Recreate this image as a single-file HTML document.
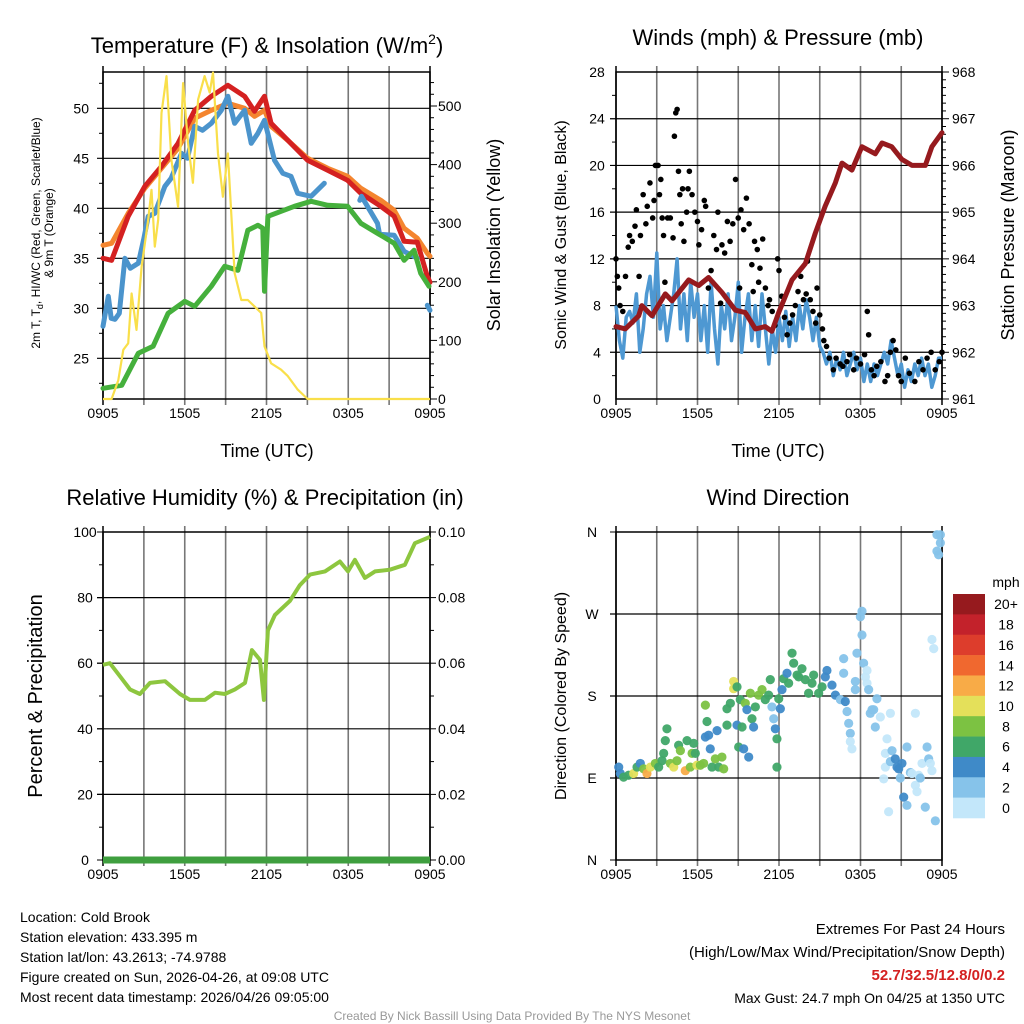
<!DOCTYPE html>
<html><head><meta charset="utf-8"><style>
html,body{margin:0;padding:0;background:#fff;}
svg{display:block;font-family:"Liberation Sans",sans-serif;}
</style></head><body>
<svg id="root" width="1024" height="1024" viewBox="0 0 1024 1024"></svg>
<script>
// ---------- DATA ----------
const tempHours=[0,0.63,1.85,3.07,4.29,5.51,6.73,7.95,9.17,10.39,11.12,11.85,12.34,13.56,15.02,16.49,17.95,18.93,20.39,21.37,22.1,23.07,23.8,24];
const tempRed=[35,34.8,39.2,42.2,44.2,46.5,49.8,51.2,52.3,51.2,49.7,51.2,48.5,46.8,44.8,43.8,42.8,41.5,40.2,39.2,36.7,36.6,33.2,32.6];
const temp9m=[36.3,36.5,39.5,42,44,46,49,49.8,50.5,50,49.2,49.8,48.2,46.8,45,44,43.2,42,40.8,39.8,38,37,35.5,35.2];
const wcHours=[0,0.39,0.6,0.88,1.2,1.61,2.0,2.59,3.0,3.32,3.8,4.54,5.0,5.76,6.2,6.73,7.3,7.95,8.68,9.17,9.66,10.39,10.88,11.37,11.85,12.59,13.2,13.8,14.29,15.27,16.24];
const wcVals=[28.2,31.2,29,28.9,29.5,35,34,34.5,37,39.2,39.5,42.2,43,45.5,45,48.2,47.8,48.5,49.8,51.2,48.5,49.8,46.5,47.5,48.8,44.8,43.5,43.2,41.5,41.2,42.5];
const wcLateHours=[18.85,18.97,20.15,20.3,21.37,22.1,23.07];
const wcLateVals=[40.8,41.2,38.5,37.4,37.3,35.7,35];
const wcEndHours=[23.8,24];
const wcEndVals=[30.3,29.8];
const dewHours=[0,1.37,2.59,3.68,4.78,6,6.73,7.95,8.93,9.9,10.63,11.37,11.73,11.85,12.1,13.07,14.05,15.27,16.49,17.95,18.93,20.15,21.37,22.1,22.83,23.32,23.93];
const dewVals=[22,22.3,25.5,26.2,29.5,30.7,30.2,32.2,34.2,33.8,37.8,38.3,38,31.7,39.2,39.7,40.2,40.7,40.3,40.2,38.5,37.5,36.5,34.8,35.8,33.5,32.2];
const solHours=[0,0.63,1.12,1.49,1.85,2.1,2.46,2.83,3.32,3.56,3.8,4.05,4.29,4.66,5.02,5.51,5.88,6.24,6.6,6.98,7.46,7.83,8.07,8.44,8.8,9.17,9.66,10.15,10.63,11.12,11.61,11.85,12.34,13.07,13.56,14.29,15.02,24];
const solVals=[0,0,32,84,95,180,118,226,306,357,260,306,488,551,408,328,539,437,369,511,551,523,557,419,345,419,215,169,169,158,147,90,61,50,39,16,0,0];
const p1Ticks=[25,30,35,40,45,50];
const p1RightTicks=[0,100,200,300,400,500];
const xTickLabels=["0905","1505","2105","0305","0905"];
// Panel 2
const windHours=[0,0.25,0.5,0.75,1,1.25,1.5,1.75,2,2.25,2.5,2.75,3,3.25,3.5,3.75,4,4.25,4.5,4.75,5,5.25,5.5,5.75,6,6.25,6.5,6.75,7,7.25,7.5,7.75,8,8.25,8.5,8.75,9,9.25,9.5,9.75,10,10.25,10.5,10.75,11,11.25,11.5,11.75,12,12.25,12.5,12.75,13,13.25,13.5,13.75,14,14.25,14.5,14.75,15,15.25,15.5,15.75,16,16.25,16.5,16.75,17,17.25,17.5,17.75,18,18.25,18.5,18.75,19,19.25,19.5,19.75,20,20.25,20.5,20.75,21,21.25,21.5,21.75,22,22.25,22.5,22.75,23,23.25,23.5,23.75,24];
const windVals=[8,5,3.5,7,7.5,6.5,9,4,6,9,10.5,7,12.5,6,8,5,7,9,12,6,9,5,10,7,9,5,8,4,10,6,3,8,6,9,5,7,10,4,7,9,5,8,4.5,9,6,3,6,4,7,5,7.5,4.5,7,5,8,6,8.5,7,5,7,4.5,4,3,4,2,3.5,2.5,4,2,3,4,2.5,3.5,1.5,3,1.5,3,2,3,4,3,5,3.5,2,3,1,2.5,1.5,3,2,3.5,2,3,1,2,3.5,3.5];
const gustHours=[0,0.1,0.2,0.3,0.5,0.7,0.9,1,1.2,1.4,1.5,1.7,1.8,2,2.2,2.3,2.5,2.7,2.8,2.9,3.1,3.2,3.3,3.4,3.5,3.6,3.8,4,4.2,4.3,4.4,4.5,4.6,4.7,4.8,4.9,5,5.2,5.3,5.4,5.6,5.8,6,6.1,6.3,6.5,6.6,6.8,7,7.2,7.4,7.5,7.7,7.8,8,8.2,8.4,8.6,8.8,9,9.1,9.2,9.4,9.6,9.8,10,10.1,10.2,10.4,10.5,10.6,10.8,11,11.2,11.3,11.5,11.7,11.9,12,12.2,12.4,12.6,12.8,13,13.2,13.4,13.6,13.8,14,14.1,14.3,14.5,14.7,14.8,15,15.2,15.3,15.5,15.7,16,16.2,16.5,16.7,17,17.2,17.5,17.7,18,18.3,18.5,18.6,18.8,19,19.2,19.5,19.8,20,20.2,20.4,20.6,20.8,21,21.3,21.6,22,22.3,22.6,22.9,23.2,23.5,23.8,24];
const gustVals=[12,10.5,9.5,8,7.5,10.5,13,14,13.5,14.8,16.2,10.5,14,17.5,15,16.5,18.5,15.5,17,20,20,17.5,18.8,15.5,14,10,15.5,15.5,13.8,22.5,24.5,24.8,19.5,17.5,15,18,13.5,16,18,19.5,17.5,16,15.2,13.2,14.5,17,16.5,9.5,11,14,12.8,16,8.2,13.2,12.5,15.2,13.5,15,18.8,15.5,9.5,16.2,14.5,17.2,15,11.5,9.2,13.5,12.8,10,11.2,13.7,9.5,8,8.5,7.5,6.3,12,11,8.8,7,5.5,6.5,7.2,8,9.2,10.5,8.5,9,11.8,8.5,7.5,6.5,9.5,7.2,6,5,4.5,3.5,2.5,3.5,3,2.8,3.2,3.8,2.5,3.5,3,3.8,7.5,5.5,2.5,2,2.8,3.2,1.5,2,4,5,4.2,2,1.5,3.5,2.2,1.5,3.2,2.5,3.5,4,2.5,3.2,4];
const presHours=[0,0.69,1.67,1.91,2.65,3.63,4.12,5.35,6.09,6.82,7.8,8.79,9.52,10.26,10.99,11.48,11.98,12.96,13.94,14.67,15.4,16.15,16.64,17.37,18.1,19.09,19.58,20.3,21.05,21.79,22.77,23.26,24];
const presVals=[962.55,962.5,962.78,963,962.78,963.25,963.1,963.55,963.43,963.6,963.28,962.9,962.85,962.5,962.55,962.45,962.85,963.55,963.9,964.55,965.13,965.63,966.05,965.9,966.4,966.25,966.48,966.4,966.13,966,966,966.4,966.7];
const windTicks=[0,4,8,12,16,20,24,28];
const presTicks=[961,962,963,964,965,966,967,968];
// Panel 3
const rhHours=[0,0.51,1.25,1.98,2.71,3.45,4.55,5.65,6.38,7.48,8.22,8.95,9.68,10.42,10.93,11.52,11.81,12.1,12.62,13.72,14.45,15.19,16.29,17.39,17.98,18.49,19.22,19.96,21.06,22.16,22.89,24];
const rhVals=[59.5,60,56,52,50.6,54,54.5,50.6,48.8,48.8,51,50.6,52,54,64,61,48.8,70,74.7,79,83.8,87,88,91,88,91.5,86,88,88.5,90,96.6,98.5];
const precipHours=[0,24];
const precipVals=[0,0];
const rhTicks=[0,20,40,60,80,100];
const precipTicks=["0.00","0.02","0.04","0.06","0.08","0.10"];
// Panel 4
const dirHours=[0.2,0.32,0.56,0.93,1.3,1.55,1.79,2.04,2.28,2.53,2.9,3.14,3.39,3.51,3.63,3.75,4.0,4.25,4.49,4.61,4.74,5.1,5.23,5.47,5.6,5.72,5.84,5.96,6.21,6.45,6.58,6.7,6.58,6.82,6.94,7.07,7.31,7.44,7.56,7.8,7.93,8.17,8.17,8.42,8.66,8.66,8.91,8.91,9.03,9.15,9.28,9.4,9.52,9.64,9.77,9.89,10.01,10.13,10.26,10.5,10.75,10.99,11.24,11.36,11.48,11.61,11.73,11.85,11.85,11.98,12.1,12.22,12.34,12.59,12.71,12.96,13.08,13.33,13.45,13.69,13.94,14.18,14.43,14.55,14.92,15.17,15.41,15.53,15.9,16.15,16.52,16.76,16.76,16.88,17.01,17.13,17.25,17.25,17.37,17.62,17.62,17.74,17.99,18.11,18.11,18.23,18.36,18.48,18.48,18.6,18.72,18.85,18.97,19.09,19.21,19.46,20.2,19.95,19.83,19.71,19.83,20.07,20.2,20.32,20.56,20.69,20.81,20.93,21.05,21.18,21.42,21.42,21.67,21.79,22.04,22.04,22.16,22.28,22.4,22.53,22.77,22.9,23.02,23.14,23.26,23.26,23.39,23.51,23.63,23.63,23.75,23.88,23.88];
const dirVals=[102,95,91,93,95,102,106,100,95,102,106,102,109,117,131,144,106,102,109,126,120,98,131,102,117,128,117,104,104,106,135,152,170,137,122,102,111,142,102,113,100,148,166,172,196,188,148,190,124,176,146,122,172,165,113,183,155,146,168,181,187,176,181,198,168,155,144,133,102,177,166,187,199,205,194,227,216,203,201,210,198,183,194,203,183,190,201,208,192,181,176,221,205,174,163,150,139,130,122,187,196,227,267,273,247,216,201,208,194,187,161,165,165,146,177,157,161,133,117,89,102,53,108,120,111,102,100,90,106,69,60,124,96,95,82,161,75,93,90,106,58,124,111,106,98,242,232,43,357,339,335,348,357,3];
const dirSpeeds=[4,5,7,7,10,6,5,9,13,10,8,6,7,6,6,6,9,10,8,7,8,12,6,9,8,6,7,10,8,8,4,6,8,4,4,7,8,4,6,8,8,6,6,7,10,10,4,7,6,7,6,4,8,4,4,8,6,4,7,8,9,6,7,6,3,3,4,6,6,7,4,4,6,4,6,6,6,7,7,6,7,7,7,6,6,6,4,4,4,4,3,3,2,4,2,2,2,1,1,2,2,2,2,2,2,2,1,1,1,2,2,2,3,2,2,1,1,1,1,1,1,1,2,2,4,4,4,3,4,4,2,3,3,1,1,1,1,1,3,1,2,3,3,1,1,1,1,3,3,3,3,3,3,1,3];
const speedLabels=["20+","18","16","14","12","10","8","6","4","2","0"];
const speedColors=["#c3e7fa","#86c3ea","#3f8ac8","#40a768","#7cc242","#e4e05a","#f8ab47","#f0682f","#dd3d2c","#c3222b","#961a1e"];
const dirLabels=["N","E","S","W","N"];

// ---------- HELPERS ----------
const NS="http://www.w3.org/2000/svg";
const root=document.getElementById('root');
function mk(tag,attrs,parent){const e=document.createElementNS(NS,tag);for(const k in attrs)e.setAttribute(k,attrs[k]);(parent||root).appendChild(e);return e;}
function txt(x,y,s,size,anchor,parent,extra){const t=mk('text',Object.assign({x:x,y:y,'font-size':size,'text-anchor':anchor||'middle',fill:'#000'},extra||{}),parent);t.textContent=s;return t;}
function linear(d0,d1,r0,r1){return v=>r0+(v-d0)/(d1-d0)*(r1-r0);}
function pathD(xs,ys,fx,fy){let d='';const n=Math.min(xs.length,ys.length);for(let i=0;i<n;i++){d+=(i?'L':'M')+fx(xs[i]).toFixed(1)+' '+fy(ys[i]).toFixed(1);}return d;}

function frame(g,L,R,T,B){
  for(let k=0;k<=8;k++){const x=L+(R-L)*k/8;
    const ln=mk('line',{x1:x,x2:x,y1:T-6,y2:B+6,stroke:(k==0||k==8)?'#000':'#777','stroke-width':k==0||k==8?1.5:1.6},g);
    }
  const r=mk('rect',{x:L,y:T,width:R-L,height:B-T,fill:'none',stroke:'#000','stroke-width':1.5},g);
  
  for(let k=0;k<5;k++){const t=txt(L+(R-L)*k/4,B+19,xTickLabels[k],14,'middle',g);
    }
}
function hgrid(g,L,R,y){
  const ln=mk('line',{x1:L-6,x2:R,y1:y,y2:y,stroke:'#000','stroke-width':1.2},g);
  
}

// ---------- PANEL 1 ----------
(function(){
  const g=mk('g',{});
  const L=103,R=430,T=72,B=399;
  const fx=linear(0,24,L,R), fy=linear(25,50,358.3,108.3), fs=linear(0,500,399,106);
  frame(g,L,R,T,B);
  p1Ticks.forEach(v=>{const y=fy(v);hgrid(g,L,R,y);
    const t=txt(L-14,y+5,String(v),14,'end',g);});
  for(let v=22.5;v<54;v+=5){mk('line',{x1:L-4,x2:L,y1:fy(v),y2:fy(v),stroke:'#000'},g);}
  for(let v=0;v<=550;v+=20){const y=fs(v);if(y<T)break;mk('line',{x1:R,x2:R+(v%100==0?7:4),y1:y,y2:y,stroke:'#000'},g);}
  p1RightTicks.forEach(v=>{const t=txt(R+8,fs(v)+5,String(v),14,'start',g);});
  const series=[[tempHours,temp9m,'#f4852f','nine-m-temp-line'],[tempHours,tempRed,'#d42121','temperature-line'],
    [wcHours,wcVals,'#4b94cc','wind-chill-line'],[wcLateHours,wcLateVals,'#4b94cc','wind-chill-line-late'],[wcEndHours,wcEndVals,'#4b94cc','wind-chill-line-end'],
    [dewHours,dewVals,'#45b03c','dewpoint-line']];
  series.forEach(s=>{const p=mk('path',{d:pathD(s[0],s[1],fx,fy),fill:'none',stroke:s[2],'stroke-width':5,'stroke-linejoin':'round','stroke-linecap':'round'},g);
    });
  const p=mk('path',{d:pathD(solHours,solVals,fx,fs),fill:'none',stroke:'#f9df4a','stroke-width':2.2,'stroke-linejoin':'round'},g);
  
  const t=mk('text',{x:267,y:53,'font-size':22,'text-anchor':'middle'},g);
  t.innerHTML='Temperature (F) &amp; Insolation (W/m<tspan font-size="14" dy="-9">2</tspan><tspan dy="9">)</tspan>';
  
  const xl=txt(267,457,'Time (UTC)',18,'middle',g);
  const yl=mk('text',{transform:'translate(40,233) rotate(-90)','font-size':12,'text-anchor':'middle'},g);
  yl.innerHTML='<tspan x="0" y="0">2m T, T<tspan font-size="9" dy="3">d</tspan><tspan dy="-3">, HI/WC (Red, Green, Scarlet/Blue)</tspan></tspan><tspan x="0" y="13">&amp; 9m T (Orange)</tspan>';
  
  const yr=txt(0,0,'Solar Insolation (Yellow)',18,'middle',g,{transform:'translate(500,235) rotate(-90)'});
  
})();

// ---------- PANEL 2 ----------
(function(){
  const g=mk('g',{});
  const L=616,R=942,T=72,B=399;
  const fx=linear(0,24,L,R), fy=linear(0,28,B,T), fp=linear(961,968,B,T);
  frame(g,L,R,T,B);
  windTicks.forEach(v=>{const y=fy(v);if(v>0&&v<28)hgrid(g,L,R,y);
    const t=txt(L-19,y+5,String(v),14,'middle',g);});
  for(let v=2;v<28;v+=4)mk('line',{x1:L-4,x2:L,y1:fy(v),y2:fy(v),stroke:'#000'},g);
  for(let v=961;v<=968.001;v+=1/6){mk('line',{x1:R,x2:R+(Math.abs(v-Math.round(v))<0.01?7:4),y1:fp(v),y2:fp(v),stroke:'#000'},g);}
  presTicks.forEach(v=>{const t=txt(R+10,fp(v)+5,String(v),14,'start',g);});
  const w=mk('path',{d:pathD(windHours,windVals,fx,fy),fill:'none',stroke:'#4e98d2','stroke-width':3.5,'stroke-linejoin':'round'},g);
  
  for(let i=0;i<gustHours.length;i++){const c=mk('circle',{cx:fx(gustHours[i]),cy:fy(gustVals[i]),r:2.8,fill:'#000'},g);
    }
  const pr=mk('path',{d:pathD(presHours,presVals,fx,fp),fill:'none',stroke:'#961a1e','stroke-width':5,'stroke-linejoin':'round','stroke-linecap':'round'},g);
  
  const t=txt(778,45,'Winds (mph) & Pressure (mb)',22,'middle',g);
  const xl=txt(778,457,'Time (UTC)',18,'middle',g);
  const yl=txt(0,0,'Sonic Wind & Gust (Blue, Black)',16,'middle',g,{transform:'translate(566,235) rotate(-90)'});
  
  const yr=txt(0,0,'Station Pressure (Maroon)',18,'middle',g,{transform:'translate(1014,235) rotate(-90)'});
  
})();

// ---------- PANEL 3 ----------
(function(){
  const g=mk('g',{});
  const L=103,R=430,T=532,B=860;
  const fx=linear(0,24,L,R), fy=linear(0,100,B,T), fp=linear(0,0.1,B,T);
  frame(g,L,R,T,B);
  rhTicks.forEach((v,i)=>{const y=fy(v);if(v>0&&v<100)hgrid(g,L,R,y);
    mk('line',{x1:L-6,x2:L,y1:y,y2:y,stroke:'#000'},g);mk('line',{x1:R,x2:R+6,y1:y,y2:y,stroke:'#000'},g);
    const t=txt(L-18,y+5,String(v),14,'middle',g);
    const t2=txt(R+8,y+5,precipTicks[i],14,'start',g);});
  for(let v=10;v<100;v+=20){mk('line',{x1:L-4,x2:L,y1:fy(v),y2:fy(v),stroke:'#000'},g);mk('line',{x1:R,x2:R+4,y1:fy(v),y2:fy(v),stroke:'#000'},g);}
  const rh=mk('path',{d:pathD(rhHours,rhVals,fx,fy),fill:'none',stroke:'#8dc63f','stroke-width':4,'stroke-linejoin':'round'},g);
  
  const pp=mk('path',{d:pathD(precipHours,precipVals,fx,fp),fill:'none',stroke:'#3f9f3f','stroke-width':7},g);
  
  const t=txt(265,505,'Relative Humidity (%) & Precipitation (in)',22,'middle',g);
  const yl=txt(0,0,'Percent & Precipitation',20,'middle',g,{transform:'translate(42,696) rotate(-90)'});
  
})();

// ---------- PANEL 4 ----------
(function(){
  const g=mk('g',{});
  const L=616,R=942,T=532,B=860;
  const fx=linear(0,24,L,R), fy=linear(0,360,B,T);
  frame(g,L,R,T,B);
  dirLabels.forEach((s,i)=>{const y=fy(i*90);if(i>0&&i<4)hgrid(g,L,R,y);
    mk('line',{x1:L-6,x2:L,y1:y,y2:y,stroke:'#000'},g);
    const t=txt(L-24,y+5,s,14,'middle',g);});
  const n=Math.min(dirHours.length,dirVals.length);
  for(let i=0;i<n;i++){const sp=dirSpeeds[i]!==undefined?dirSpeeds[i]:1;const b=Math.min(10,Math.floor(sp/2));
    const c=mk('circle',{cx:fx(dirHours[i]),cy:fy(dirVals[i]),r:4.6,fill:speedColors[b],opacity:0.95},g);
    }
  const t=txt(778,505,'Wind Direction',22,'middle',g);
  const yl=txt(0,0,'Direction (Colored By Speed)',16,'middle',g,{transform:'translate(566,696) rotate(-90)'});
  
  const lg=mk('g',{},g);
  const top=594,h=224/11;
  for(let k=0;k<11;k++){const r=mk('rect',{x:953,y:top+k*h,width:32,height:h+0.3,fill:speedColors[10-k]},lg);
    
    const tl=txt(1006,top+k*h+h/2+5,speedLabels[k],14,'middle',lg);
    }
  const mph=txt(1006,587,'mph',14,'middle',lg);
})();

// ---------- FOOTER ----------
(function(){
  const g=mk('g',{});
  const lines=['Location: Cold Brook','Station elevation: 433.395 m','Station lat/lon: 43.2613; -74.9788','Figure created on Sun, 2026-04-26, at 09:08 UTC','Most recent data timestamp: 2026/04/26 09:05:00'];
  lines.forEach((s,i)=>{const t=txt(20,922+i*20,s,14,'start',g);});
  const a=txt(1005,934,'Extremes For Past 24 Hours',15,'end',g);
  const b=txt(1005,957,'(High/Low/Max Wind/Precipitation/Snow Depth)',15,'end',g);
  const c=txt(1005,980,'52.7/32.5/12.8/0/0.2',15,'end',g,{fill:'#d42121','font-weight':'bold'});
  const d=txt(1005,1003,'Max Gust: 24.7 mph On 04/25 at 1350 UTC',14,'end',g);
  const e=txt(512,1020,'Created By Nick Bassill Using Data Provided By The NYS Mesonet',12,'middle',g,{fill:'#999'});
})();
</script>
</body></html>
